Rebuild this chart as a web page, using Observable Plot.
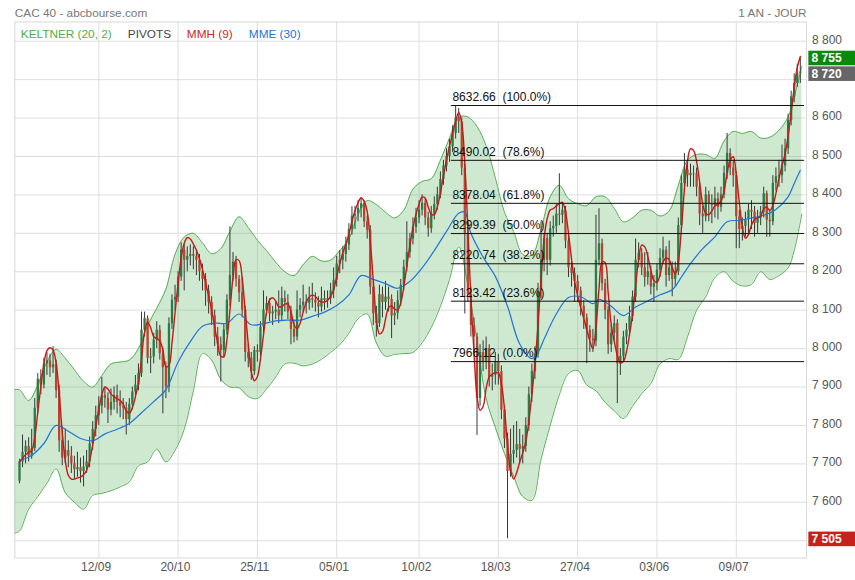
<!DOCTYPE html>
<html><head><meta charset="utf-8">
<script src="https://cdn.jsdelivr.net/npm/d3@7"></script>
<script src="https://cdn.jsdelivr.net/npm/@observablehq/plot@0.6"></script>
<style>html,body{margin:0;padding:0;background:#fff;overflow:hidden}#chart svg{display:block}</style>
</head><body><div id="chart"></div>
<script>
// ---- Daily candles (trading-day index 0..256) ----
const openP = [7655,7705,7730,7745,7720,7740,7845,7920,7905,7960,
7968,7950,7958,7890,7760,7715,7735,7720,7700,7685,
7690,7680,7692,7705,7752,7790,7825,7850,7878,7870,
7840,7860,7878,7860,7850,7845,7815,7855,7887,7905,
7935,8048,8078,7975,7978,8022,8048,7987,7950,7900,
8065,8126,8134,8186,8256,8230,8240,8245,8240,8230,
8200,8180,8150,8120,8085,8030,8010,7995,8048,8126,
8190,8225,8180,8145,8100,7990,7975,7940,7995,7990,
8056,8100,8117,8090,8095,8100,8085,8130,8120,8095,
8050,8030,8100,8112,8121,8118,8130,8126,8118,8108,
8130,8125,8130,8150,8178,8220,8230,8245,8270,8310,
8345,8350,8365,8377,8330,8308,8160,8090,8065,8140,
8120,8134,8128,8085,8092,8125,8165,8212,8250,8285,
8315,8340,8360,8378,8340,8312,8350,8375,8400,8440,
8475,8500,8525,8560,8600,8590,8470,8300,8140,8060,
8030,7870,7990,7965,8000,7925,7930,7965,7940,7840,
7765,7680,7725,7735,7750,7738,7745,7800,7880,7940,
7985,8150,8230,8286,8230,8312,8318,8350,8347,8360,
8280,8210,8195,8175,8150,8110,8080,8048,8025,8020,
8230,8273,8169,8100,8010,8040,8065,7960,7980,8030,
8048,8083,8134,8230,8247,8210,8185,8200,8160,8169,
8204,8235,8256,8190,8210,8180,8200,8320,8430,8465,
8450,8456,8455,8420,8350,8343,8400,8375,8372,8390,
8368,8400,8456,8508,8470,8450,8343,8310,8318,8335,
8360,8355,8326,8340,8355,8403,8334,8330,8430,8447,
8450,8475,8520,8594,8655,8690,8716];
const highP = [7712,7775,7760,7768,7790,7870,7935,7945,7975,7990,
7985,8005,7970,7905,7790,7790,7760,7745,7720,7730,
7715,7720,7735,7770,7810,7850,7875,7925,7900,7885,
7895,7900,7905,7890,7870,7860,7870,7900,7930,7960,
8095,8095,8085,8000,8040,8070,8060,8000,7965,8080,
8140,8165,8200,8275,8270,8265,8270,8265,8255,8245,
8220,8195,8165,8135,8100,8055,8030,8065,8140,8317,
8250,8240,8190,8186,8110,8010,7990,8005,8010,8070,
8150,8135,8130,8110,8120,8150,8160,8150,8140,8110,
8075,8150,8130,8165,8140,8160,8170,8145,8135,8160,
8150,8150,8170,8210,8240,8255,8265,8290,8325,8369,
8370,8385,8390,8385,8345,8320,8175,8110,8165,8160,
8175,8160,8140,8120,8150,8180,8230,8330,8300,8340,
8365,8385,8400,8390,8355,8370,8395,8420,8460,8490,
8520,8545,8580,8632.66,8625,8600,8480,8320,8160,8080,
8040,8010,8020,8030,8010,7960,7990,7985,7955,7850,
7780,7790,7800,7810,7790,7775,7820,7900,7960,8005,
8170,8330,8300,8300,8330,8345,8375,8455,8380,8370,
8295,8225,8210,8190,8160,8125,8090,8060,8050,8347,
8364,8285,8180,8110,8060,8085,8075,8000,8045,8065,
8110,8150,8285,8275,8260,8250,8250,8215,8190,8220,
8260,8290,8265,8280,8225,8225,8340,8450,8508,8490,
8480,8475,8470,8430,8370,8420,8410,8400,8420,8405,
8420,8475,8560,8520,8490,8460,8360,8340,8355,8375,
8385,8370,8360,8370,8420,8410,8360,8450,8470,8490,
8530,8545,8610,8670,8715,8740,8755];
const lowP = [7648,7690,7700,7705,7712,7732,7830,7880,7895,7930,
7925,7935,7870,7730,7695,7700,7690,7675,7660,7665,
7650,7640,7675,7690,7735,7770,7800,7830,7845,7805,
7825,7840,7830,7820,7815,7775,7800,7840,7870,7890,
7925,8030,7960,7935,7960,8000,7970,7830,7870,7885,
8050,8100,8120,8175,8150,8200,8215,8205,8190,8175,
8150,8110,8090,8060,8005,7980,7913,7975,8035,8110,
8175,8160,8120,8080,7965,7950,7918,7930,7965,7980,
8040,8085,8070,8060,8075,8065,8070,8095,8075,8010,
8015,8020,8080,8095,8090,8100,8105,8095,8080,8095,
8100,8105,8115,8130,8160,8195,8205,8225,8255,8295,
8310,8330,8340,8315,8285,8140,8060,8030,8055,8080,
8100,8095,8026,8060,8075,8110,8150,8200,8235,8270,
8300,8325,8345,8320,8290,8300,8335,8360,8390,8425,
8460,8485,8510,8545,8560,8450,8090,8120,8030,7990,
7774,7850,7940,7945,7900,7890,7905,7905,7815,7740,
7505,7665,7700,7715,7700,7700,7730,7785,7860,7920,
7975,8130,8200,8190,8215,8290,8300,8320,8325,8260,
8185,8160,8120,8120,8085,8050,7961,7990,7990,8005,
8215,8150,8075,7985,7990,8020,7857,7930,7965,8010,
8035,8070,8120,8210,8190,8160,8165,8140,8120,8150,
8185,8220,8160,8175,8135,8160,8190,8305,8410,8420,
8420,8420,8395,8320,8300,8330,8330,8325,8340,8335,
8355,8390,8440,8450,8420,8260,8260,8280,8290,8300,
8310,8290,8300,8320,8340,8290,8290,8320,8410,8420,
8430,8460,8505,8580,8640,8680,8690];
const closeP = [7705,7730,7745,7720,7740,7845,7920,7905,7960,7968,
7950,7958,7890,7760,7715,7735,7720,7700,7685,7690,
7680,7692,7705,7752,7790,7825,7850,7878,7870,7840,
7860,7878,7860,7850,7845,7815,7855,7887,7905,7935,
8048,8078,7975,7978,8022,8048,7987,7950,7900,8065,
8126,8134,8186,8256,8230,8240,8245,8240,8230,8200,
8180,8150,8120,8085,8030,8010,7995,8048,8126,8190,
8225,8180,8145,8100,7990,7975,7940,7995,7990,8056,
8100,8117,8090,8095,8100,8085,8130,8120,8095,8050,
8030,8100,8112,8121,8118,8130,8126,8118,8108,8130,
8125,8130,8150,8178,8220,8230,8245,8270,8310,8345,
8350,8365,8377,8330,8308,8160,8090,8065,8140,8120,
8134,8128,8085,8092,8125,8165,8212,8250,8285,8315,
8340,8360,8378,8340,8312,8350,8375,8400,8440,8475,
8500,8525,8560,8600,8590,8470,8300,8140,8060,8030,
7870,7990,7965,8000,7925,7930,7965,7940,7840,7765,
7680,7725,7735,7750,7738,7745,7800,7880,7940,7985,
8150,8230,8286,8230,8312,8318,8350,8347,8360,8280,
8210,8195,8175,8150,8110,8080,8048,8025,8020,8230,
8273,8169,8100,8010,8040,8065,7960,7980,8030,8048,
8083,8134,8230,8247,8210,8185,8200,8160,8169,8204,
8235,8256,8190,8210,8180,8200,8320,8430,8465,8450,
8456,8455,8420,8350,8343,8400,8375,8372,8390,8368,
8400,8456,8508,8470,8450,8343,8310,8318,8335,8360,
8355,8326,8340,8355,8403,8334,8330,8430,8447,8450,
8475,8520,8594,8655,8690,8716,8720];

// ---- Keltner (20, 2) band ----
const bandIdx = [-1.5,0,3,6,9,12,15,18,21,24,27,30,33,36,39,42,45,48,51,54,57,60,63,66,69,72,75,78,81,84,87,90,93,96,99,102,105,108,111,114,117,120,123,126,129,132,135,138,141,144,147,150,153,156,159,162,165,168,171,174,177,180,183,186,189,192,195,198,201,204,207,210,213,216,219,222,225,228,231,234,237,240,243,246,249,252,254,256.5];
const bandUpper = [7893,7893,7865,7905,7965,7998,7975,7945,7915,7900,7930,
7960,7965,7970,8000,8060,8105,8155,8245,8290,8300,
8275,8247,8260,8305,8343,8315,8282,8255,8225,8200,
8190,8218,8240,8228,8230,8255,8285,8350,8385,8375,
8355,8340,8360,8415,8435,8442,8490,8548,8602,8603,
8578,8528,8445,8355,8305,8245,8243,8310,8395,8425,
8390,8377,8372,8395,8395,8365,8330,8340,8360,8360,
8345,8358,8425,8490,8505,8505,8495,8540,8565,8560,
8565,8548,8550,8568,8603,8655,8735];
const bandLower = [7520,7525,7582,7615,7650,7687,7625,7600,7582,7618,7623,
7630,7640,7653,7695,7705,7738,7705,7735,7790,7890,
7987,7970,7920,7900,7898,7875,7870,7895,7926,7960,
7962,7955,7960,7972,7990,8010,8040,8078,8090,8015,
7980,7985,7987,7990,8015,8055,8110,8180,8265,8165,
8020,7870,7795,7727,7668,7615,7605,7712,7800,7880,
7935,7943,7905,7890,7860,7838,7818,7850,7883,7909,
7960,7974,7972,8030,8100,8135,8185,8200,8175,8163,
8167,8200,8180,8190,8210,8255,8350];

// ---- MME (30) ----
const emaIdx = [0,4,8,12,16,20,24,28,32,36,40,44,48,52,56,60,64,68,72,76,80,84,88,92,96,100,104,108,112,116,120,124,128,132,136,140,144,146,148,152,156,160,164,168,170,172,176,180,184,188,190,194,198,202,206,210,214,217,220,224,228,232,236,240,244,248,252,254,256];
const emaVal = [7709,7722,7753,7800,7785,7766,7760,7778,7790,7805,7833,7862,7893,7965,8018,8058,8066,8066,8090,8062,8065,8072,8074,8074,8084,8095,8112,8140,8190,8180,8169,8157,8175,8210,8255,8305,8352,8355,8300,8238,8188,8110,8012,7974,7990,8025,8090,8133,8135,8117,8128,8110,8086,8108,8124,8140,8153,8186,8221,8260,8291,8330,8334,8340,8347,8362,8395,8430,8464];

// ---- Fibonacci levels ----
const fibLevels = [8632.66, 8490.02, 8378.04, 8299.39, 8220.74, 8123.42, 7966.12];
const fibPcts = ["100.0", "78.6", "61.8", "50.0", "38.2", "23.6", "0.0"];

// ---- Axes ----
const xTickIdx = [26, 52, 78, 104, 131, 157, 183, 209, 235];
const xTickLabels = ["12/09", "20/10", "25/11", "05/01", "10/02", "18/03", "27/04", "03/06", "09/07"];
const yTicks = [7500,7600,7700,7800,7900,8000,8100,8200,8300,8400,8500,8600,8700,8800];
const yLabelTicks = [7600,7700,7800,7900,8000,8100,8200,8300,8400,8500,8600,8800];

// ---- Legend / header / price tags ----
const titleText = "CAC 40 - abcbourse.com";
const periodText = "1 AN - JOUR";
const legendNames = ["KELTNER (20, 2)", "PIVOTS", "MMH (9)", "MME (30)"];
const tagValues = [8755, 8720, 7505];

// ---- layout & styles (not data) ----
const legendDx = [6, 113, 172, 234];
const legendColors = ["#4cae4c", "#444444", "#c62828", "#1e73d2"];
const tagColors = ["#0a8a0a", "#666666", "#c8201c"];
const tagDy = [0, 2.2, 0.6];
const fibStart = 141.6, fibEnd = 257.4;
const tagX1 = 258.8, tagX2 = 274.5;

const fmt = v => String(v).replace(/\B(?=(\d{3})+(?!\d))/g, " ");

const candles = closeP.map((c, i) => ({i, o: openP[i], h: highP[i], l: lowP[i], c}));
const band = bandIdx.map((i, k) => ({i, up: bandUpper[k], lo: bandLower[k]}));
const ema = emaIdx.map((i, k) => ({i, v: emaVal[k]}));

// Hull moving average (9) of the closes: WMA(2*WMA(4) - WMA(9), 3)
function wma(a, n) {
  return a.map((_, i) => {
    let s = 0, w = 0;
    for (let k = 0; k < n && i - k >= 0; k++) { s += (n - k) * a[i - k]; w += n - k; }
    return s / w;
  });
}
const w4 = wma(closeP, 4), w9 = wma(closeP, 9);
const hmaRaw = closeP.map((_, i) => 2 * w4[i] - w9[i]);
const hma = wma(hmaRaw, 3).map((v, i) => ({i, v}));

const font = '"Liberation Sans", Arial, Helvetica, sans-serif';

const marks = [
  Plot.gridY(yTicks, {stroke: "#dedede", strokeOpacity: 1}),
  Plot.gridX(xTickIdx, {stroke: "#dedede", strokeOpacity: 1}),
  Plot.frame({stroke: "#d8d8d8"}),
  Plot.areaY(band, {x: "i", y1: "lo", y2: "up", fill: "#4caf50", fillOpacity: 0.27, curve: "catmull-rom"}),
  Plot.line(band, {x: "i", y: "up", stroke: "#5aae57", strokeWidth: 1, curve: "catmull-rom"}),
  Plot.line(band, {x: "i", y: "lo", stroke: "#5aae57", strokeWidth: 1, curve: "catmull-rom"}),
  Plot.ruleX(candles, {x: "i", y1: "l", y2: "h", stroke: "#383838", strokeWidth: 1}),
  Plot.ruleX(candles.filter(d => d.c >= d.o), {x: "i", y1: "o", y2: "c", stroke: "#2a7c47", strokeWidth: 2.3}),
  Plot.ruleX(candles.filter(d => d.c < d.o), {x: "i", y1: "o", y2: "c", stroke: "#b8452d", strokeWidth: 2.3}),
  Plot.line(ema, {x: "i", y: "v", stroke: "#2175d9", strokeWidth: 1.2, curve: "catmull-rom"}),
  Plot.line(hma, {x: "i", y: "v", stroke: "#c81818", strokeWidth: 1.4, curve: "catmull-rom"}),
  Plot.ruleY(fibLevels, {y: d => d, x1: fibStart, x2: fibEnd, stroke: "#111", strokeWidth: 1}),
  Plot.text(fibLevels, {x: fibStart, y: d => d, text: (d, k) => d.toFixed(2) + "\u00a0\u00a0(" + fibPcts[k] + "%)",
    textAnchor: "start", dx: 1, dy: -8.5, fill: "#111", fontSize: 12}),
  Plot.text(yLabelTicks, {y: d => d, frameAnchor: "right", text: d => fmt(d), textAnchor: "start", dx: 5.5, dy: -1.5, fill: "#555", fontSize: 12}),
  Plot.text(xTickIdx, {x: d => d, frameAnchor: "bottom", text: (d, k) => xTickLabels[k], dy: 12.8, dx: -2.7, fill: "#555", fontSize: 12}),
  Plot.text([titleText], {frameAnchor: "top-left", text: d => d, textAnchor: "start", dy: -13.5, dx: 0, fill: "#777", fontSize: 11.8}),
  Plot.text([periodText], {frameAnchor: "top-right", text: d => d, textAnchor: "end", dy: -13.5, dx: 0, fill: "#777", fontSize: 11.8}),
  ...legendNames.map((t, k) => Plot.text([t], {frameAnchor: "top-left", text: d => d, textAnchor: "start", dx: legendDx[k], dy: 7.8, fill: legendColors[k], fontSize: 11.8})),
  ...tagValues.map((v, k) => Plot.rect([v], {x1: tagX1, x2: tagX2, y1: d => d - 19, y2: d => d + 19, fill: tagColors[k], dy: tagDy[k]})),
  ...tagValues.map((v, k) => Plot.text([v], {x: tagX1, y: d => d, text: d => fmt(d), textAnchor: "start", dx: 2.7, dy: tagDy[k], fill: "#fff", fontWeight: "bold", fontSize: 12}))
];

const chart = Plot.plot({
  width: 855, height: 580,
  marginTop: 21.5, marginBottom: 22.5, marginLeft: 14.3, marginRight: 49,
  x: {type: "linear", domain: [-1.54, 258.03], axis: null},
  y: {type: "linear", domain: [7455, 8850], axis: null},
  style: {fontFamily: font, fontSize: "12px", background: "#fff", overflow: "visible"},
  marks
});
document.getElementById("chart").appendChild(chart);
</script></body></html>
